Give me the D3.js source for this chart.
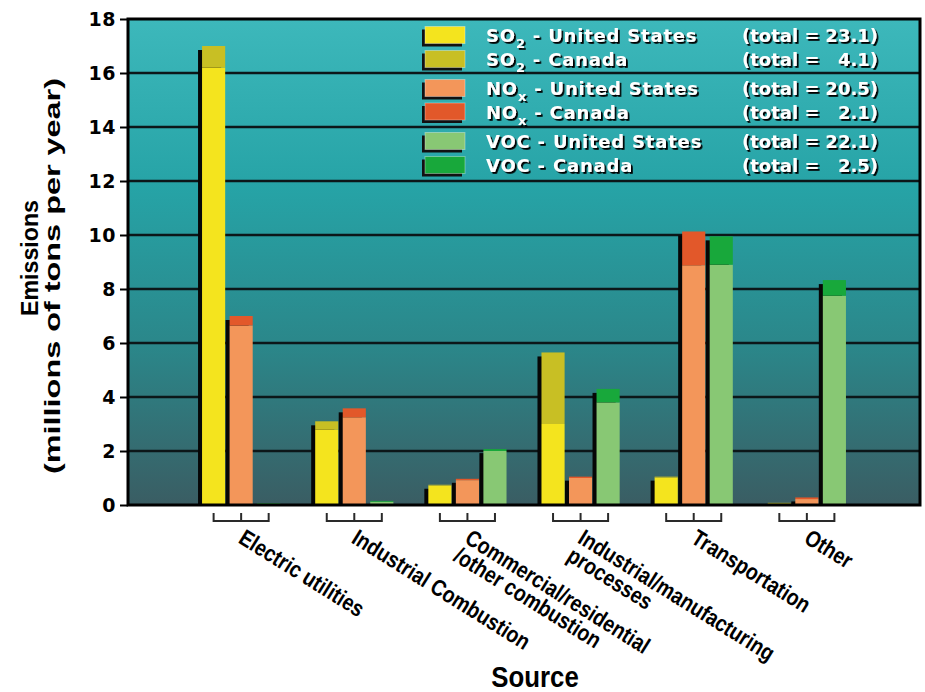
<!DOCTYPE html>
<html><head><meta charset="utf-8">
<script src="https://cdn.jsdelivr.net/npm/d3@7/dist/d3.min.js"></script>
<style>body{margin:0;background:#fff} svg{display:block}</style>
</head><body><svg id="chart" width="925" height="692"></svg>
<script>
// ---------- data ----------
const categories = ["Electric utilities","Industrial Combustion","Commercial/residential/other combustion","Industrial/manufacturing processes","Transportation","Other"];
const categoryLabelLines = [["Electric utilities"],["Industrial Combustion"],["Commercial/residential","/other combustion"],["Industrial/manufacturing","processes"],["Transportation"],["Other"]];
const pollutants = ["SO2","NOx","VOC"];
const so2US     = [16.2, 2.8, 0.72, 3.0, 1.02, 0.05];
const so2Canada = [0.8, 0.3, 0.03, 2.65, 0.03, 0.03];
const noxUS     = [6.65, 3.25, 0.92, 1.0, 8.88, 0.22];
const noxCanada = [0.35, 0.33, 0.05, 0.05, 1.25, 0.06];
const vocUS     = [0.05, 0.12, 2.0, 3.8, 8.9, 7.75];
const vocCanada = [0.02, 0.03, 0.07, 0.5, 1.05, 0.58];
const yTicks = [0,2,4,6,8,10,12,14,16,18];
const legendPollutants = ["SO","SO","NO","NO","VOC","VOC"];
const legendSubscripts = ["2","2","x","x","",""];
const legendCountries = ["United States","Canada","United States","Canada","United States","Canada"];
const legendTotals = ["23.1","4.1","20.5","2.1","22.1","2.5"];

const usColors = {SO2:"#f4e41e", NOx:"#f3965a", VOC:"#88c874"};
const caColors = {SO2:"#c8bf24", NOx:"#e2582a", VOC:"#18a83b"};
const usSeries = {SO2:so2US, NOx:noxUS, VOC:vocUS};
const caSeries = {SO2:so2Canada, NOx:noxCanada, VOC:vocCanada};
const legendColors = [usColors.SO2, caColors.SO2, usColors.NOx, caColors.NOx, usColors.VOC, caColors.VOC];

// ---------- layout ----------
const L = 128, R = 920, T = 19, B = 505;
const svg = d3.select("#chart");
const defs = svg.append("defs");
const grad = defs.append("linearGradient").attr("id","bg").attr("x1",0).attr("y1",0).attr("x2",0).attr("y2",1);
[[0,"#3db8bb"],[0.35,"#26a3a6"],[0.68,"#2b8689"],[1,"#3a5d63"]].forEach(([o,c])=>grad.append("stop").attr("offset",o).attr("stop-color",c));
const shadow = defs.append("filter").attr("id","ts").attr("x","-10%").attr("y","-30%").attr("width","130%").attr("height","180%");
shadow.append("feDropShadow").attr("dx",1.8).attr("dy",1.8).attr("stdDeviation",0.4).attr("flood-color","#000").attr("flood-opacity",1);
defs.append("clipPath").attr("id","plotclip").append("rect").attr("x",L).attr("y",T).attr("width",R-L).attr("height",B-T);

const x = d3.scaleBand().domain(categories).range([L,R]).paddingInner(0).paddingOuter(0.5);
const xs = d3.scaleBand().domain(pollutants).range([-x.bandwidth()*0.365, x.bandwidth()*0.365]).paddingInner(0.16).paddingOuter(0.08);
const y = d3.scaleLinear().domain([0,18]).range([B,T]);

svg.append("rect").attr("x",L).attr("y",T).attr("width",R-L).attr("height",B-T).attr("fill","url(#bg)");

// gridlines
svg.append("g").selectAll("line").data(yTicks.filter(t=>t>0&&t<18)).join("line")
  .attr("x1",L).attr("x2",R).attr("y1",d=>y(d)).attr("y2",d=>y(d))
  .attr("stroke","#0c1719").attr("stroke-width",2.5);

// legend
const lg = svg.append("g");
const rowY = [35,59,88,111.5,141,165];
legendCountries.forEach((c,i)=>{
  lg.append("rect").attr("x",422).attr("y",rowY[i]-8.5+3).attr("width",40).attr("height",17).attr("fill","#111");
  lg.append("rect").attr("x",425).attr("y",rowY[i]-8.5).attr("width",40).attr("height",17).attr("fill",legendColors[i])
    .attr("stroke","rgba(255,255,255,0.35)").attr("stroke-width",1);
  const t = lg.append("text").attr("x",486).attr("y",rowY[i]+7).attr("fill","#fff").attr("filter","url(#ts)")
    .style("font-family","'DejaVu Sans', sans-serif").style("font-weight","bold").style("font-size","18px").style("letter-spacing","0.8px");
  t.append("tspan").text(legendPollutants[i]);
  if (legendSubscripts[i]) {
    t.append("tspan").attr("dy",6).style("font-size","13px").text(legendSubscripts[i]);
    t.append("tspan").attr("dy",-6).text(" - " + c);
  } else {
    t.append("tspan").text(" - " + c);
  }
  lg.append("text").attr("x",742).attr("y",rowY[i]+7).attr("fill","#fff").attr("filter","url(#ts)")
    .style("font-family","'DejaVu Sans', sans-serif").style("font-weight","bold").style("font-size","18px")
    .text("(total =");
  lg.append("text").attr("x",878).attr("y",rowY[i]+7).attr("text-anchor","end").attr("fill","#fff").attr("filter","url(#ts)")
    .style("font-family","'DejaVu Sans', sans-serif").style("font-weight","bold").style("font-size","18px")
    .text(legendTotals[i] + ")");
});

// bars
const bars = svg.append("g").attr("clip-path","url(#plotclip)");
categories.forEach((cat,ci)=>{
  pollutants.forEach(p=>{
    const us = usSeries[p][ci], ca = caSeries[p][ci];
    const bx = x(cat) + x.bandwidth()/2 + xs(p);
    const w = xs.bandwidth();
    bars.append("rect").attr("x",bx-4).attr("y",y(us+ca)+4).attr("width",w).attr("height",Math.max(0,y(0)-y(us+ca))).attr("fill","#060606");
    bars.append("rect").attr("x",bx).attr("y",y(us)).attr("width",w).attr("height",y(0)-y(us)).attr("fill",usColors[p]);
    bars.append("rect").attr("x",bx).attr("y",y(us+ca)).attr("width",w).attr("height",y(us)-y(us+ca)).attr("fill",caColors[p]);
  });
});

// frame
svg.append("rect").attr("x",L).attr("y",T).attr("width",R-L).attr("height",B-T).attr("fill","none").attr("stroke","#000").attr("stroke-width",3);

// y axis
const ya = svg.append("g").attr("transform",`translate(${L},0)`)
  .call(d3.axisLeft(y).tickValues(yTicks).tickSize(8).tickPadding(4).tickFormat(d3.format("d")));
ya.select(".domain").remove();
ya.selectAll(".tick line").attr("stroke","#000").attr("stroke-width",2);
ya.selectAll(".tick text").attr("fill","#000")
  .style("font-family","'DejaVu Sans', sans-serif").style("font-weight","bold").style("font-size","19px").style("letter-spacing","0.5px");

svg.append("text").attr("transform","translate(38,258) rotate(-90)").attr("text-anchor","middle")
  .style("font-family","'Liberation Sans', Arial, sans-serif").style("font-weight","bold").style("font-size","24px")
  .attr("textLength",116).attr("lengthAdjust","spacingAndGlyphs").text("Emissions");
svg.append("text").attr("transform","translate(60,276) rotate(-90)").attr("text-anchor","middle")
  .style("font-family","'Liberation Sans', Arial, sans-serif").style("font-weight","bold").style("font-size","22px")
  .attr("textLength",396).attr("lengthAdjust","spacingAndGlyphs").text("(millions of tons per year)");

// brackets under groups
const br = svg.append("g").attr("stroke","#2a2a2a").attr("stroke-width",2).attr("fill","none");
categories.forEach(cat=>{
  const c = x(cat) + x.bandwidth()/2;
  const xsP = pollutants.map(p=>c + xs(p) + xs.bandwidth()/2);
  br.append("line").attr("x1",xsP[0]).attr("x2",xsP[2]).attr("y1",521).attr("y2",521);
  xsP.forEach(px=>br.append("line").attr("x1",px).attr("x2",px).attr("y1",513).attr("y2",522));
});

// category labels (condensed via horizontal scale in the rotated frame)
const cl = svg.append("g");
categories.forEach((cat,i)=>{
  const c = x(cat) + x.bandwidth()/2;
  const t = cl.append("text").attr("transform",`translate(${c-4},542) rotate(32) scale(0.84,1)`)
    .style("font-family","'Liberation Sans', Arial, sans-serif").style("font-weight","bold").style("font-size","23px");
  categoryLabelLines[i].forEach((ln,j)=>t.append("tspan").attr("x",0).attr("dy",j===0?0:21).text(ln));
});

svg.append("text").attr("transform","translate(535,687) scale(0.86,1)").attr("text-anchor","middle")
  .style("font-family","'Liberation Sans', Arial, sans-serif").style("font-weight","bold").style("font-size","30px")
  .text("Source");
</script></body></html>
